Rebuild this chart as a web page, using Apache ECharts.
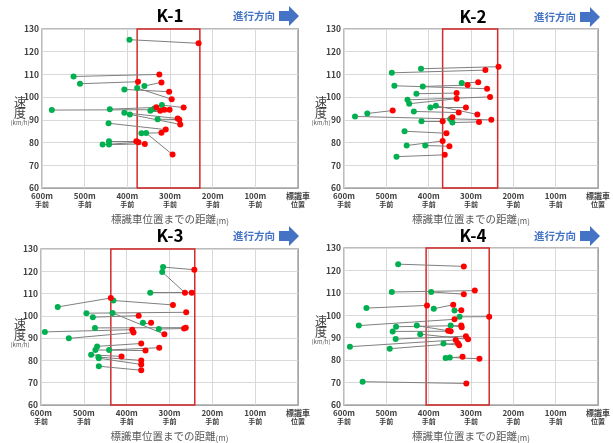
<!DOCTYPE html>
<html>
<head>
<meta charset="utf-8">
<script src="https://cdn.jsdelivr.net/npm/echarts@6/dist/echarts.min.js"></script>
<style>
html,body{margin:0;padding:0;background:#fff;}
#chart{width:613px;height:443px;}
</style>
</head>
<body>
<div id="chart"></div>
<script>
// パネル名
var panelNames = ['K-1', 'K-2', 'K-3', 'K-4'];
// 速度軸
var speedMin = 60, speedMax = 130, speedStep = 10;
// 距離軸 (標識車位置までの距離 m)
var distMin = 0, distMax = 600, distStep = 100;

// 開始点(緑) [距離m, 速度km/h]
var k1Start = [[395,125.3],[526,109.1],[511,105.9],[407,103.4],[360,104.9],[377,104],[577,94.3],[441,94.7],[346,94],[337,95],
               [319,96.5],[407,93.1],[394,92.4],[329,90.3],[444,88.5],[367,84.1],[356,84.2],[458,79.1],[443,80.6],[443,79.1]];
// 終了点(赤)
var k1End   = [[233,123.7],[325,110],[375,106.8],[302,102.4],[320,106.5],[296,99.1],[301,94.5],[332,95.5],[323,94],[313,94.5],
               [268,95.4],[282,90.6],[276,88],[278,90.1],[310,85.7],[320,84.3],[294,74.7],[374,80.1],[379,80.6],[359,79.4]];

var k2Start = [[418,112.5],[487,110.7],[481,105],[414,104.7],[322,106.2],[429,101.5],[450,98.8],[446,97.1],[396,95.4],[383,96.2],
               [435,93.7],[545,92.8],[574,91.5],[417,89.4],[344,88.8],[349,90.4],[457,85],[452,78.7],[408,78.7],[476,73.8]];
var k2End   = [[235,113.4],[266,111.9],[262,103.7],[308,105.3],[283,106.6],[334,101.8],[255,100.1],[334,99.3],[312,95.4],[285,92.4],
               [329,93.2],[485,94.1],[252,90],[367,89.4],[281,89.1],[344,91.2],[358,84.1],[367,80.7],[351,78.4],[362,74.6]];

var k3Start = [[315,121.9],[317,119.7],[345,110.4],[561,104],[431,106.9],[494,101.2],[479,99.4],[433,101.3],[362,96.9],[474,94.6],
               [325,94.1],[591,92.8],[535,89.9],[469,86.3],[473,84.7],[441,84.7],[483,82.5],[466,81.5],[465,81],[465,77.4]];
var k3End   = [[242,120.7],[264,110.4],[248,110.4],[437,108],[292,104.9],[261,101.6],[372,100.1],[312,91.8],[343,96.9],[262,94.7],
               [266,94.3],[387,93.8],[384,92.5],[366,87.6],[356,84.4],[324,85.7],[412,81.8],[366,80],[366,78.2],[366,75.6]];

var k4Start = [[472,122.8],[487,110.4],[394,110.4],[547,103.2],[388,102.9],[339,102.1],[327,99.3],[565,95.4],[477,94.9],[428,95.4],
               [348,95.4],[485,92.8],[420,91.6],[478,89.4],[365,87.4],[586,86],[492,85.1],[360,80.9],[350,81.2],[556,70.4]];
var k4End   = [[317,121.8],[291,111],[317,109.4],[404,104.4],[342,104.7],[323,102.2],[257,99.4],[339,98.2],[323,95.4],[354,93.1],
               [322,94.7],[348,92.9],[307,89.3],[312,90.7],[328,86.6],[336,89],[331,87.5],[320,81.5],[280,80.6],[311,69.6]];

// 赤枠の範囲 [m]
var zoneK1 = [377, 230];
var zoneK2 = [367, 237];
var zoneK3 = [437, 241];
var zoneK4 = [406, 257];

var starts = [k1Start, k2Start, k3Start, k4Start];
var ends = [k1End, k2End, k3End, k4End];
var zones = [zoneK1, zoneK2, zoneK3, zoneK4];

// レイアウト
var grids = [
    {left: 42, top: 29, width: 256, height: 159},
    {left: 344, top: 29, width: 256, height: 159},
    {left: 41, top: 249, width: 257, height: 158},
    {left: 344, top: 248, width: 256, height: 158}
];
var headY = [16, 17, 236, 236];
var headX = [170, 473, 170, 473];
var dirX = [254, 555, 254, 555];
var arrowX = [279, 580, 279, 580];
var yNameX = [20, 321, 20, 321];
var yNameY = [119, 119, 341, 338];

var FONT = '"Noto Sans CJK JP"';

myChart = echarts.init(document.getElementById('chart'));

var xAxes = [], yAxes = [], series = [], graphics = [];

grids.forEach(function(g, i) {
    g.show = true;
    g.borderColor = '#a6a6a6';
    g.borderWidth = 1.5;

    xAxes.push({
        type: 'value',
        gridIndex: i,
        min: distMin,
        max: distMax,
        interval: distStep,
        inverse: true,
        axisLine: {lineStyle: {color: '#a6a6a6'}},
        axisTick: {show: false},
        splitLine: {show: true, lineStyle: {color: '#d9d9d9', width: 1}},
        axisLabel: {
            margin: 3,
            showMinLabel: true,
            showMaxLabel: true,
            formatter: function(v) {
                if (v === 0) {
                    return '{a|標識車}\n{b|位置}';
                }
                return '{a|' + v + 'm}\n{b|手前}';
            },
            rich: {
                a: {fontFamily: FONT, fontSize: 8, fontWeight: 'bold', color: '#404040', lineHeight: 9},
                b: {fontFamily: FONT, fontSize: 7, fontWeight: 'bold', color: '#404040', lineHeight: 9}
            }
        },
        name: '{a|標識車位置までの距離}{b|(m)}',
        nameLocation: 'middle',
        nameGap: 26,
        nameTextStyle: {
            rich: {
                a: {fontFamily: FONT, fontSize: 10.5, color: '#595959'},
                b: {fontFamily: FONT, fontSize: 8, color: '#595959', padding: [3, 0, 0, 0]}
            }
        }
    });

    yAxes.push({
        type: 'value',
        gridIndex: i,
        min: speedMin,
        max: speedMax,
        interval: speedStep,
        axisLine: {show: true, lineStyle: {color: '#a6a6a6'}},
        axisTick: {show: false},
        splitLine: {show: true, lineStyle: {color: '#d9d9d9', width: 1}},
        axisLabel: {
            margin: 3,
            fontFamily: FONT,
            fontSize: 8.5,
            fontWeight: 'bold',
            color: '#404040'
        }
    });

    var pairs = starts[i].map(function(s, k) {
        return {coords: [s, ends[i][k]]};
    });

    // 接続線 + 赤枠
    series.push({
        type: 'lines',
        coordinateSystem: 'cartesian2d',
        xAxisIndex: i,
        yAxisIndex: i,
        data: pairs,
        silent: true,
        lineStyle: {color: '#7f7f7f', width: 1, opacity: 1},
        z: 2,
        markArea: {
            silent: true,
            itemStyle: {color: 'rgba(0,0,0,0)', borderColor: '#d42a2a', borderWidth: 1.5},
            data: [[{xAxis: zones[i][0]}, {xAxis: zones[i][1]}]]
        }
    });
    // 開始点
    series.push({
        type: 'scatter',
        xAxisIndex: i,
        yAxisIndex: i,
        data: starts[i],
        symbolSize: 6,
        itemStyle: {color: '#00b050', opacity: 1},
        z: 3
    });
    // 終了点
    series.push({
        type: 'scatter',
        xAxisIndex: i,
        yAxisIndex: i,
        data: ends[i],
        symbolSize: 6,
        itemStyle: {color: '#ff0000', opacity: 1},
        z: 4
    });

    // タイトル
    graphics.push({
        type: 'text', x: headX[i], y: headY[i],
        style: {text: panelNames[i], font: 'bold 17px ' + FONT, fill: '#000', align: 'center', verticalAlign: 'middle'}
    });
    // 進行方向
    graphics.push({
        type: 'text', x: dirX[i], y: headY[i],
        style: {text: '進行方向', font: 'bold 10.5px ' + FONT, fill: '#4472c4', align: 'center', verticalAlign: 'middle'}
    });
    var ax = arrowX[i], ay = headY[i];
    graphics.push({
        type: 'polygon',
        shape: {points: [[ax, ay - 5], [ax + 10, ay - 5], [ax + 10, ay - 10], [ax + 20, ay], [ax + 10, ay + 10], [ax + 10, ay + 5], [ax, ay + 5]]},
        style: {fill: '#4472c4'}
    });
    // 速度
    graphics.push({
        type: 'text', x: yNameX[i], y: yNameY[i],
        style: {text: '速\n度', font: '12px ' + FONT, lineHeight: 11, fill: '#404040', align: 'center', verticalAlign: 'bottom'}
    });
    graphics.push({
        type: 'text', x: yNameX[i], y: yNameY[i] + 1,
        style: {text: '(km/h)', font: '6px ' + FONT, fill: '#595959', align: 'center', verticalAlign: 'top'}
    });
});

var option = {
    animation: false,
    backgroundColor: '#fff',
    grid: grids,
    xAxis: xAxes,
    yAxis: yAxes,
    series: series,
    graphic: graphics
};
myChart.setOption(option);
</script>
</body>
</html>
